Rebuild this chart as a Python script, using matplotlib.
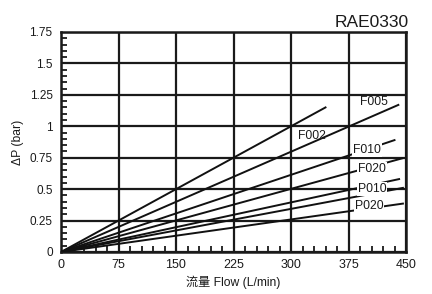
import matplotlib
matplotlib.use("Agg")
import matplotlib.pyplot as plt
from matplotlib.ticker import MultipleLocator

plt.rcParams['font.family'] = ['Liberation Sans', 'Noto Sans CJK SC', 'DejaVu Sans']

title = "RAE0330"
x_label = "流量 Flow (L/min)"
y_label = "ΔP (bar)"

x_ticks = [0, 75, 150, 225, 300, 375, 450]
y_ticks = [0, 0.25, 0.5, 0.75, 1, 1.25, 1.5, 1.75]
y_tick_labels = ["0", "0.25", "0.5", "0.75", "1", "1.25", "1.5", "1.75"]

# series: flow (L/min) and pressure drop (bar)
f002_flow = [0, 345]
f002_dp = [0, 1.15]
f005_flow = [0, 440]
f005_dp = [0, 1.17]
f010_flow = [0, 435]
f010_dp = [0, 0.89]
f020_flow = [0, 445]
f020_dp = [0, 0.745]
unl_flow = [0, 441]
unl_dp = [0, 0.58]
p010_flow = [0, 446]
p010_dp = [0, 0.51]
p020_flow = [0, 446]
p020_dp = [0, 0.385]

series = [
    (f002_flow, f002_dp),
    (f005_flow, f005_dp),
    (f010_flow, f010_dp),
    (f020_flow, f020_dp),
    (unl_flow, unl_dp),
    (p010_flow, p010_dp),
    (p020_flow, p020_dp),
]

# labels: text, anchor flow, anchor dp, white box
labels = [
    ("F002", 327, 0.92, False),
    ("F005", 408, 1.19, False),
    ("F010", 399, 0.81, True),
    ("F020", 406, 0.66, True),
    ("P010", 406, 0.50, True),
    ("P020", 402, 0.366, True),
]

fig = plt.figure(figsize=(4.32, 2.94), dpi=100)
ax = fig.add_axes([61/432, 1 - 252/294, (406 - 61)/432, (252 - 32)/294])

ax.set_xlim(0, 450)
ax.set_ylim(0, 1.75)
ax.set_xticks(x_ticks)
ax.set_yticks(y_ticks)
ax.set_yticklabels(y_tick_labels)
ax.xaxis.set_minor_locator(MultipleLocator(15))
ax.yaxis.set_minor_locator(MultipleLocator(0.05))
ax.tick_params(which='major', length=0, pad=6, colors='#1a1a1a')
ax.tick_params(axis='x', which='major', labelsize=9, pad=5)
ax.tick_params(axis='y', which='major', labelsize=8.5)
ax.tick_params(which='minor', direction='in', length=4, width=1.3, color='#1a1a1a')

ax.grid(True, which='major', color='#1a1a1a', linewidth=1.6)
for s in ax.spines.values():
    s.set_linewidth(1.8)
    s.set_color('#1a1a1a')

for fl, dp in series:
    ax.plot(fl, dp, color='#111111', linewidth=1.4, zorder=3)

for txt, x, y, box in labels:
    kw = {}
    if box:
        kw['bbox'] = dict(facecolor='white', edgecolor='none', pad=0.6)
    ax.text(x, y, txt, fontsize=8.7, ha='center', va='center', color='#1a1a1a', zorder=4, **kw)

ax.set_xlabel(x_label, fontsize=8.7, labelpad=3, color='#1a1a1a')
ax.set_ylabel(y_label, fontsize=8.7, labelpad=4, color='#1a1a1a')
fig.text(409/432, 1 - 27/294, title, fontsize=12.5, ha='right', va='baseline', color='#1a1a1a')

fig.savefig("out.png", dpi=100, facecolor='white')
